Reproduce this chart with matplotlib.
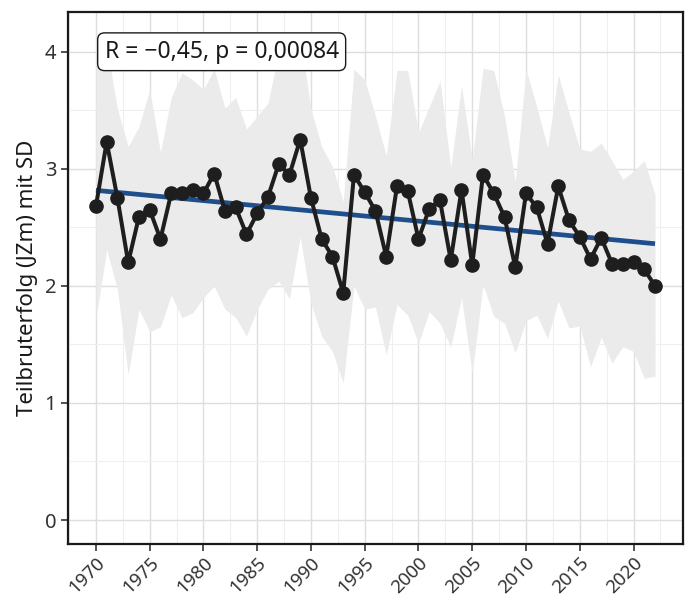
import matplotlib
matplotlib.use("Agg")
import matplotlib.pyplot as plt
import numpy as np

years = list(range(1970, 2023))

# mean Teilbruterfolg per year
mean_vals = [2.68, 3.23, 2.75, 2.20, 2.59, 2.65, 2.40, 2.79, 2.79, 2.82,
             2.79, 2.96, 2.64, 2.67, 2.44, 2.62, 2.76, 3.04, 2.95, 3.25,
             2.75, 2.40, 2.25, 1.94, 2.95, 2.80, 2.64, 2.25, 2.85, 2.81,
             2.40, 2.66, 2.73, 2.22, 2.82, 2.18, 2.95, 2.79, 2.59, 2.16,
             2.79, 2.67, 2.36, 2.85, 2.56, 2.42, 2.23, 2.41, 2.19, 2.19,
             2.20, 2.14, 2.00]

# mean + SD
upper_vals = [3.90, 4.05, 3.51, 3.19, 3.36, 3.68, 3.14, 3.61, 3.82, 3.76,
              3.68, 3.85, 3.52, 3.61, 3.34, 3.45, 3.56, 4.00, 3.92, 4.13,
              3.51, 3.19, 3.02, 2.72, 3.85, 3.76, 3.45, 3.11, 3.84, 3.84,
              3.31, 3.53, 3.75, 3.01, 3.71, 3.08, 3.86, 3.84, 3.45, 2.89,
              3.85, 3.53, 3.18, 3.80, 3.48, 3.17, 3.15, 3.22, 3.07, 2.91,
              2.98, 3.07, 2.78]

# mean - SD
lower_vals = [1.72, 2.31, 1.97, 1.24, 1.80, 1.61, 1.65, 1.92, 1.73, 1.77,
              1.90, 2.00, 1.80, 1.73, 1.57, 1.80, 1.97, 2.04, 1.89, 2.42,
              1.85, 1.57, 1.44, 1.17, 2.00, 1.80, 1.82, 1.41, 1.84, 1.75,
              1.51, 1.78, 1.68, 1.48, 1.90, 1.25, 2.01, 1.74, 1.68, 1.43,
              1.70, 1.75, 1.55, 1.87, 1.64, 1.66, 1.31, 1.56, 1.34, 1.48,
              1.44, 1.21, 1.23]

stat_label = "R = \u22120,45, p = 0,00084"
y_label = "Teilbruterfolg (JZm) mit SD"

plt.rcParams['font.family'] = ['Noto Sans', 'DejaVu Sans']

fig = plt.figure(figsize=(6.86, 5.98), dpi=100)
ax = fig.add_axes([0.0991, 0.0903, 0.8965, 0.8897])

x = np.array(years)
y = np.array(mean_vals)

ax.fill_between(x, lower_vals, upper_vals, color='#ebebeb', linewidth=0, zorder=2)

coef = np.polyfit(x, y, 1)
ax.plot(x, np.polyval(coef, x), color='#1f4e8c', linewidth=3.4, zorder=3,
        solid_capstyle='butt')

ax.plot(x, y, color='#1e1e1e', linewidth=2.9, marker='o', markersize=9.5,
        zorder=4)

ax.set_xlim(1967.4, 2024.6)
ax.set_ylim(-0.205, 4.34)

ax.set_xticks(range(1970, 2021, 5))
ax.set_xticks(np.arange(1967.5, 2024, 5), minor=True)
ax.set_yticks([0, 1, 2, 3, 4])
ax.set_yticks([0.5, 1.5, 2.5, 3.5], minor=True)

ax.grid(which='major', color='#dedede', linewidth=1.0, zorder=0)
ax.grid(which='minor', color='#efefef', linewidth=0.8, zorder=0)
ax.set_axisbelow(True)

for s in ax.spines.values():
    s.set_color('#1a1a1a')
    s.set_linewidth(1.6)

ax.tick_params(which='major', length=5, width=1.2, color='#333333',
               labelsize=14.5, labelcolor='#333333')
ax.tick_params(axis='x', which='major', labelsize=13.5, pad=2)
ax.tick_params(which='minor', length=0)
plt.setp(ax.get_xticklabels(), rotation=45, ha='right', rotation_mode='anchor')

ax.set_ylabel(y_label, fontsize=16, color='#1a1a1a', labelpad=5)

ax.text(1970.8, 4.0, stat_label, fontsize=16.5, color='#1a1a1a',
        ha='left', va='center', zorder=6,
        bbox=dict(boxstyle='round,pad=0.3,rounding_size=0.3',
                  facecolor='white', edgecolor='#1a1a1a', linewidth=1.0))

fig.savefig('out.png', dpi=100)
